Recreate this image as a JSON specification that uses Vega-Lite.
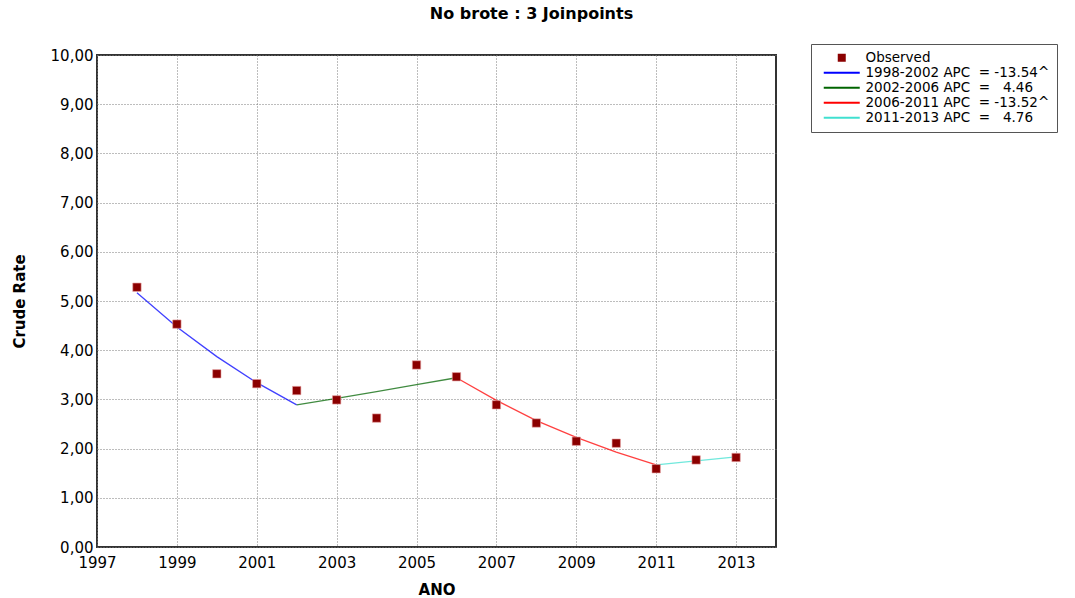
{
  "$schema": "https://vega.github.io/schema/vega-lite/v6.json",
  "width": 679,
  "height": 492,
  "autosize": {"type": "none"},
  "padding": {"left": 97, "top": 55, "right": 299, "bottom": 51},
  "background": "white",
  "title": {
    "text": "No brote : 3 Joinpoints",
    "font": "DejaVu Sans",
    "fontSize": 16,
    "fontWeight": "bold",
    "color": "black",
    "anchor": "middle",
    "dx": 95,
    "offset": 22
  },
  "config": {
    "view": {"stroke": "#333333", "strokeWidth": 2},
    "axis": {
      "labelFont": "DejaVu Sans",
      "labelFontSize": 15,
      "labelColor": "black",
      "titleFont": "DejaVu Sans",
      "titleFontSize": 15,
      "titleFontWeight": "bold",
      "titleColor": "black",
      "ticks": false,
      "domain": false,
      "gridColor": "#7a7a7a",
      "gridDash": [1, 2],
      "gridWidth": 1
    }
  },
  "datasets": {
    "obs": [
      {"year": 1998, "rate": 5.28, "series": "Observed"},
      {"year": 1999, "rate": 4.53, "series": "Observed"},
      {"year": 2000, "rate": 3.52, "series": "Observed"},
      {"year": 2001, "rate": 3.32, "series": "Observed"},
      {"year": 2002, "rate": 3.18, "series": "Observed"},
      {"year": 2003, "rate": 2.99, "series": "Observed"},
      {"year": 2004, "rate": 2.62, "series": "Observed"},
      {"year": 2005, "rate": 3.70, "series": "Observed"},
      {"year": 2006, "rate": 3.46, "series": "Observed"},
      {"year": 2007, "rate": 2.89, "series": "Observed"},
      {"year": 2008, "rate": 2.52, "series": "Observed"},
      {"year": 2009, "rate": 2.15, "series": "Observed"},
      {"year": 2010, "rate": 2.11, "series": "Observed"},
      {"year": 2011, "rate": 1.59, "series": "Observed"},
      {"year": 2012, "rate": 1.77, "series": "Observed"},
      {"year": 2013, "rate": 1.82, "series": "Observed"}
    ],
    "fit": [
      {"year": 1998, "rate": 5.17, "series": "1998-2002 APC\u00a0\u00a0=\u00a0-13.54^"},
      {"year": 1999, "rate": 4.47, "series": "1998-2002 APC\u00a0\u00a0=\u00a0-13.54^"},
      {"year": 2000, "rate": 3.87, "series": "1998-2002 APC\u00a0\u00a0=\u00a0-13.54^"},
      {"year": 2001, "rate": 3.34, "series": "1998-2002 APC\u00a0\u00a0=\u00a0-13.54^"},
      {"year": 2002, "rate": 2.89, "series": "1998-2002 APC\u00a0\u00a0=\u00a0-13.54^"},
      {"year": 2002, "rate": 2.89, "series": "2002-2006 APC\u00a0\u00a0=\u00a0\u00a0\u00a04.46"},
      {"year": 2003, "rate": 3.02, "series": "2002-2006 APC\u00a0\u00a0=\u00a0\u00a0\u00a04.46"},
      {"year": 2004, "rate": 3.16, "series": "2002-2006 APC\u00a0\u00a0=\u00a0\u00a0\u00a04.46"},
      {"year": 2005, "rate": 3.30, "series": "2002-2006 APC\u00a0\u00a0=\u00a0\u00a0\u00a04.46"},
      {"year": 2006, "rate": 3.44, "series": "2002-2006 APC\u00a0\u00a0=\u00a0\u00a0\u00a04.46"},
      {"year": 2006, "rate": 3.44, "series": "2006-2011 APC\u00a0\u00a0=\u00a0-13.52^"},
      {"year": 2007, "rate": 2.98, "series": "2006-2011 APC\u00a0\u00a0=\u00a0-13.52^"},
      {"year": 2008, "rate": 2.57, "series": "2006-2011 APC\u00a0\u00a0=\u00a0-13.52^"},
      {"year": 2009, "rate": 2.23, "series": "2006-2011 APC\u00a0\u00a0=\u00a0-13.52^"},
      {"year": 2010, "rate": 1.93, "series": "2006-2011 APC\u00a0\u00a0=\u00a0-13.52^"},
      {"year": 2011, "rate": 1.67, "series": "2006-2011 APC\u00a0\u00a0=\u00a0-13.52^"},
      {"year": 2011, "rate": 1.67, "series": "2011-2013 APC\u00a0\u00a0=\u00a0\u00a0\u00a04.76"},
      {"year": 2012, "rate": 1.75, "series": "2011-2013 APC\u00a0\u00a0=\u00a0\u00a0\u00a04.76"},
      {"year": 2013, "rate": 1.83, "series": "2011-2013 APC\u00a0\u00a0=\u00a0\u00a0\u00a04.76"}
    ]
  },
  "encoding": {
    "x": {
      "field": "year",
      "type": "quantitative",
      "scale": {"domain": [1997, 2014], "nice": false, "zero": false},
      "axis": {
        "title": "ANO",
        "values": [1997, 1999, 2001, 2003, 2005, 2007, 2009, 2011, 2013],
        "format": "d",
        "labelPadding": 8,
        "titlePadding": 12,
        "labelFlush": false
      }
    },
    "y": {
      "field": "rate",
      "type": "quantitative",
      "scale": {"domain": [0, 10], "nice": false},
      "axis": {
        "title": "Crude Rate",
        "values": [0, 1, 2, 3, 4, 5, 6, 7, 8, 9, 10],
        "labelExpr": "replace(format(datum.value, '.2f'), '.', ',')",
        "labelPadding": 4,
        "titlePadding": 23
      }
    },
    "color": {
      "field": "series",
      "type": "nominal",
      "scale": {
        "domain": [
          "Observed",
          "1998-2002 APC\u00a0\u00a0=\u00a0-13.54^",
          "2002-2006 APC\u00a0\u00a0=\u00a0\u00a0\u00a04.46",
          "2006-2011 APC\u00a0\u00a0=\u00a0-13.52^",
          "2011-2013 APC\u00a0\u00a0=\u00a0\u00a0\u00a04.76"
        ],
        "range": ["#8B0000", "#0000FF", "#006400", "#FF0000", "#40E0D0"]
      },
      "legend": {
        "title": null,
        "orient": "none",
        "legendX": 714,
        "legendY": -11,
        "padding": 7,
        "strokeColor": "#555555",
        "fillColor": "white",
        "labelFont": "DejaVu Sans",
        "labelFontSize": 13.5,
        "labelColor": "black",
        "symbolOffset": 17,
        "labelOffset": 17,
        "labelLimit": 400,
        "rowPadding": 0,
        "symbolSize": 36,
        "symbolOpacity": 1,
        "symbolStrokeWidth": 2
      }
    }
  },
  "layer": [
    {
      "data": {"name": "fit"},
      "mark": {"type": "line", "strokeWidth": 1.3, "opacity": 0.75},
      "encoding": {"detail": {"field": "series"}}
    },
    {
      "data": {"name": "obs"},
      "mark": {"type": "point", "filled": true, "size": 70, "opacity": 1, "stroke": "#e8a0a0", "strokeWidth": 0.6},
      "encoding": {
        "shape": {
          "field": "series",
          "type": "nominal",
          "scale": {
            "domain": [
              "Observed",
              "1998-2002 APC\u00a0\u00a0=\u00a0-13.54^",
              "2002-2006 APC\u00a0\u00a0=\u00a0\u00a0\u00a04.46",
              "2006-2011 APC\u00a0\u00a0=\u00a0-13.52^",
              "2011-2013 APC\u00a0\u00a0=\u00a0\u00a0\u00a04.76"
            ],
            "range": ["square", "M-6,0H6", "M-6,0H6", "M-6,0H6", "M-6,0H6"]
          },
          "legend": {
            "title": null,
            "orient": "none",
            "legendX": 714,
            "legendY": -11
          }
        }
      }
    }
  ]
}
